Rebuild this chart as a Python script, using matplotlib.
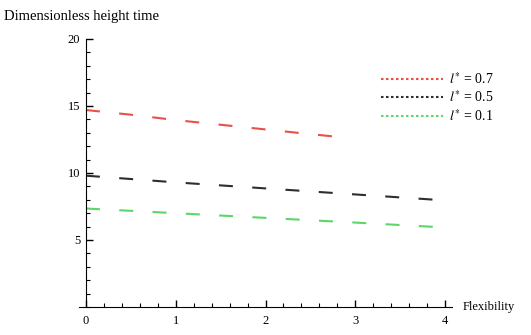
import matplotlib.pyplot as plt
from matplotlib.lines import Line2D
from matplotlib.ticker import MultipleLocator

# datos
x_red = [0, 0.5, 1, 1.5, 2, 2.5, 2.8]
y_red = [14.7, 14.35, 13.95, 13.6, 13.25, 12.9, 12.7]
x_black = [0, 1, 2, 3, 3.9]
y_black = [9.8, 9.3, 8.85, 8.4, 8.0]
x_green = [0, 1, 2, 3, 3.9]
y_green = [7.35, 7.0, 6.65, 6.3, 5.97]
labels = ["$l^{*}$ = 0.7", "$l^{*}$ = 0.5", "$l^{*}$ = 0.1"]
colors = ["#e8504a", "#2e2e2e", "#5cd66a"]

plt.rcParams['font.family'] = ['Liberation Serif', 'DejaVu Serif']
plt.rcParams['mathtext.fontset'] = 'stix'

fig = plt.figure(figsize=(5.31, 3.35), dpi=100)
ax = fig.add_axes([0.145, 0.0716, 0.710, 0.820])

dash = (0, (6.7, 9.3))
ax.plot(x_red, y_red, color=colors[0], lw=1.5, linestyle=dash)
ax.plot(x_black, y_black, color=colors[1], lw=1.5, linestyle=dash)
ax.plot(x_green, y_green, color=colors[2], lw=1.5, linestyle=dash)

ax.set_xlim(-0.1, 4.1)
ax.set_ylim(-0.3, 20.2)
ax.spines['top'].set_visible(False)
ax.spines['right'].set_visible(False)
ax.spines['left'].set_position(('data', 0))
ax.spines['bottom'].set_position(('data', 0))
ax.spines['left'].set_bounds(0, 20)
ax.spines['bottom'].set_bounds(-0.08, 4.08)

ax.set_xticks([0, 1, 2, 3, 4])
ax.set_yticks([5, 10, 15, 20])
ax.xaxis.set_minor_locator(MultipleLocator(0.2))
ax.yaxis.set_minor_locator(MultipleLocator(1))
ax.tick_params(which='major', direction='in', length=5, width=1, labelsize=9, pad=4)
ax.tick_params(which='minor', direction='in', length=3, width=0.8)
ax.tick_params(axis='x', pad=6)

fig.text(0.008, 0.95, "Dimensionless height time", fontsize=10.5, va='center')
fig.text(0.872, 0.084, "Flexibility", fontsize=9, va='center')

handles = [Line2D([], [], color=c, lw=1.5, linestyle=(0, (1.2, 1.2))) for c in colors]
ax.legend(handles, labels, loc='upper left', bbox_to_anchor=(0.772, 0.92),
          frameon=False, fontsize=10, handlelength=4.5, handletextpad=0.4,
          labelspacing=0.2)

fig.savefig("out.png", dpi=100)
